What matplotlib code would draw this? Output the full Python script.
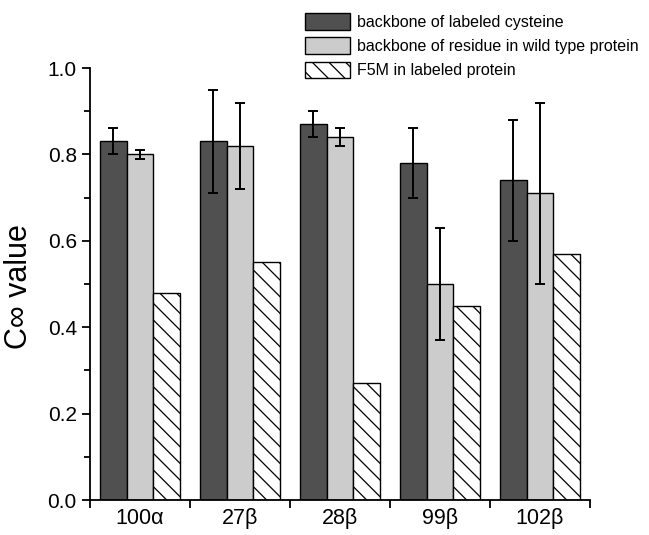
import matplotlib.pyplot as plt
import numpy as np

plt.rcParams['font.family'] = ['Liberation Sans', 'DejaVu Sans']
plt.rcParams['hatch.linewidth'] = 0.9

sites = ['100\u03b1', '27\u03b2', '28\u03b2', '99\u03b2', '102\u03b2']
labeled_cys = [0.83, 0.83, 0.87, 0.78, 0.74]
labeled_cys_err = [0.03, 0.12, 0.03, 0.08, 0.14]
wild_type = [0.80, 0.82, 0.84, 0.50, 0.71]
wild_type_err = [0.01, 0.10, 0.02, 0.13, 0.21]
f5m = [0.48, 0.55, 0.27, 0.45, 0.57]

fig = plt.figure(figsize=(6.49, 5.35), dpi=100)
ax = fig.add_axes([90/649, 35/535, 500/649, 432/535])

x = np.arange(1, len(sites) + 1)
w = 0.267
err_kw = dict(elinewidth=1.4, capthick=1.4, ecolor='black')
b1 = ax.bar(x - w, labeled_cys, w, yerr=labeled_cys_err, capsize=3.5,
            color='#505050', edgecolor='black', linewidth=1.0, error_kw=err_kw,
            label='backbone of labeled cysteine')
b2 = ax.bar(x, wild_type, w, yerr=wild_type_err, capsize=3.5,
            color='#cccccc', edgecolor='black', linewidth=1.0, error_kw=err_kw,
            label='backbone of residue in wild type protein')
b3 = ax.bar(x + w, f5m, w, color='white', edgecolor='black', linewidth=1.0,
            hatch='\\\\', label='F5M in labeled protein')

ax.set_xlim(0.5, 5.5)
ax.set_ylim(0, 1.0)
ax.set_xticks(np.arange(0.5, 6.0, 1.0))
ax.set_xticklabels([])
ax.set_xticks(x, minor=True)
ax.set_xticklabels(sites, minor=True, fontsize=15.5)
ax.tick_params(axis='x', which='minor', length=0, pad=6)
ax.tick_params(axis='x', which='major', length=6, width=1.3, direction='out')

ax.set_yticks(np.arange(0, 1.01, 0.2))
ax.set_yticks(np.arange(0.1, 1.0, 0.2), minor=True)
ax.set_yticklabels(['0.0', '0.2', '0.4', '0.6', '0.8', '1.0'], fontsize=15)
ax.tick_params(axis='y', which='major', length=6, width=1.3, direction='out')
ax.tick_params(axis='y', which='minor', length=4, width=1.3, direction='out')

ax.spines['top'].set_visible(False)
ax.spines['right'].set_visible(False)
ax.spines['left'].set_linewidth(1.3)
ax.spines['bottom'].set_linewidth(1.3)

ax.set_ylabel('C\u221e value', fontsize=22)
ax.yaxis.set_label_coords(-0.112, 0.493)

fig.legend(handles=[b1, b2, b3], loc='upper left',
           bbox_to_anchor=(299/649, 1 - 7/535), frameon=False, fontsize=11.5,
           handlelength=2.8, handleheight=1.25, labelspacing=0.45,
           handletextpad=0.45, borderaxespad=0)

fig.savefig('out.png', dpi=100)
